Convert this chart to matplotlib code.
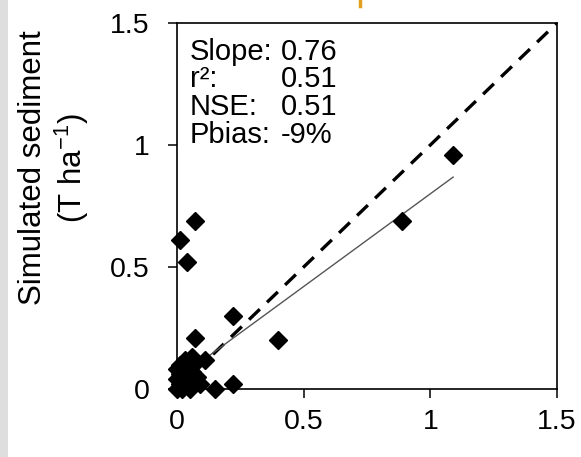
import numpy as np
import matplotlib.pyplot as plt
from matplotlib.lines import Line2D
from matplotlib.patches import Rectangle

plt.rcParams['font.family'] = ['Liberation Sans', 'DejaVu Sans']

# observed vs simulated sediment (T/ha)
observed = [1.09, 0.89, 0.40, 0.22, 0.07, 0.01, 0.04, 0.07, 0.11, 0.15, 0.22,
            0.00, 0.01, 0.02, 0.00, 0.01, 0.03, 0.05, 0.06, 0.04, 0.08, 0.07,
            0.02, 0.03, 0.00, 0.05, 0.09, 0.06, 0.01, 0.03]
simulated = [0.96, 0.69, 0.20, 0.30, 0.69, 0.61, 0.52, 0.21, 0.12, 0.00, 0.02,
             0.00, 0.02, 0.05, 0.08, 0.10, 0.12, 0.03, 0.07, 0.09, 0.05, 0.11,
             0.00, 0.03, 0.04, 0.00, 0.02, 0.13, 0.06, 0.07]

fit_slope = 0.76
fit_intercept = 0.04
fit_range = [0.0, 1.09]

stat_names = ['Slope:', 'r\u00b2:', 'NSE:', 'Pbias:']
stat_values = ['0.76', '0.51', '0.51', '-9%']

ticks = [0, 0.5, 1, 1.5]
tick_labels = ['0', '0.5', '1', '1.5']

fig = plt.figure(figsize=(5.81, 4.57), dpi=100)
W, H = 581, 457
ax = fig.add_axes([177 / W, (H - 389) / H, (557 - 177) / W, (389 - 23) / H])

# gray strip on the left edge
fig.patches.append(Rectangle((0, 0), 8 / W, 1, transform=fig.transFigure,
                             facecolor='#dedede', edgecolor='none'))
fig.add_artist(Line2D([360 / W, 360 / W], [1, 1 - 6 / H], color='#e0a020', lw=2.5))

# 1:1 line
ax.plot([0, 1.5], [0, 1.5], color='black', lw=2.4, dashes=(4.5, 3))
# regression line
fx = np.array(fit_range)
ax.plot(fx, fit_intercept + fit_slope * fx, color='#555555', lw=1.0)

ax.plot(observed, simulated, linestyle='none', marker='D', ms=9.5,
        color='black', clip_on=False, zorder=3)

ax.set_xlim(0, 1.5)
ax.set_ylim(0, 1.5)
ax.set_xticks(ticks)
ax.set_yticks(ticks)
ax.set_xticklabels(tick_labels)
ax.set_yticklabels(tick_labels)
ax.tick_params(axis='both', direction='out', length=6.5, width=1.1,
               labelsize=20.5, color='black')
ax.tick_params(axis='y', pad=13)
ax.tick_params(axis='x', pad=8)
for sp in ax.spines.values():
    sp.set_linewidth(1.2)

for i, (n, v) in enumerate(zip(stat_names, stat_values)):
    y = 1.5 - 0.06 - i * 0.114
    ax.text(0.05, y, n, fontsize=21, va='top', ha='left')
    ax.text(0.41, y, v, fontsize=21, va='top', ha='left')

fig.text(33 / W, 1 - 168 / H, 'Simulated sediment', rotation=90,
         fontsize=22.5, ha='center', va='center')
fig.text(72 / W, 1 - 168 / H, '(T ha$^{\\mathregular{-1}}$)', rotation=90,
         fontsize=22.5, ha='center', va='center')

fig.savefig('out.png', dpi=100)
